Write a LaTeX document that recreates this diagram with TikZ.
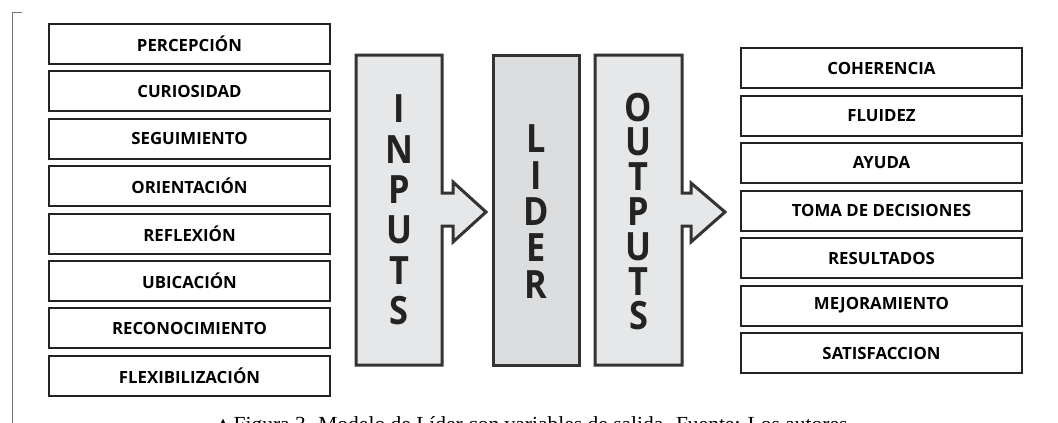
\documentclass[tikz,border=0pt]{standalone}
\usepackage{fontspec}
\setmainfont{Liberation Serif}
\newfontfamily\labelfont{Open Sans}
\newfontfamily\stagefont{Open Sans}[FakeStretch=0.88]
\newfontfamily\symbolfont{DejaVu Sans}

\definecolor{boxline}{HTML}{232323}
\definecolor{stageline}{HTML}{333333}
\definecolor{stagefill}{HTML}{E6E7E8}
\definecolor{liderfill}{HTML}{DCDDDF}
\definecolor{frameline}{HTML}{777777}

\tikzset{
  item/.style={draw=boxline, line width=2pt, minimum width=281pt, minimum height=40pt,
    inner sep=0pt, font=\labelfont\bfseries\fontsize{16.8}{19}\selectfont},
  stage/.style={draw=stageline, line width=3pt, line join=miter},
  word/.style={align=center, inner sep=0pt, text=boxline},
}

\begin{document}
\begin{tikzpicture}[x=1pt,y=-1pt]
        \useasboundingbox (0,0) rectangle (1058,423);
        % frame corner on the left
        \draw[frameline, line width=1pt](22,12)--(12,12)--(12,430);

        % inputs
        \node[item](perc) at (189.5,44){PERCEPCIÓN};
        \node[item](curi) at (189.5,91.4){CURIOSIDAD};
        \node[item](segu) at (189.5,138.8){SEGUIMIENTO};
        \node[item](orie) at (189.5,186.2){ORIENTACIÓN};
        \node[item](refl) at (189.5,233.6){REFLEXIÓN};
        \node[item](ubic) at (189.5,281){UBICACIÓN};
        \node[item](reco) at (189.5,328.4){RECONOCIMIENTO};
        \node[item](flex) at (189.5,375.8){FLEXIBILIZACIÓN};

        % middle stages, the outer two with an arrow
        \draw[stage, fill=stagefill](356,55)--(442,55)--(442,193)--(453,193)--(453,182)--(486,212)
            --(453,242)--(453,226)--(442,226)--(442,365)--(356,365)--cycle;
        \draw[stage, fill=liderfill](493,55)rectangle(579,365);
        \draw[stage, fill=stagefill](595,55)--(682,55)--(682,193)--(691,193)--(691,183)--(725,212)
            --(691,242)--(691,226)--(682,226)--(682,365)--(595,365)--cycle;

        \node[word, font=\stagefont\bfseries\fontsize{39}{40.4}\selectfont]
            (inputs) at (399,210){I\\N\\P\\U\\T\\S};
        \node[word, font=\stagefont\bfseries\fontsize{39}{36.3}\selectfont]
            (lider) at (536,211.5){L\\I\\D\\E\\R};
        \node[word, font=\stagefont\bfseries\fontsize{39}{34.8}\selectfont]
            (outputs) at (638.5,211.5){O\\U\\T\\P\\U\\T\\S};

        % outputs
        \node[item](cohe) at (881.5,68){COHERENCIA};
        \node[item](flui) at (881.5,115.5){FLUIDEZ};
        \node[item](ayud) at (881.5,163){AYUDA};
        \node[item](toma) at (881.5,210.5){TOMA DE DECISIONES};
        \node[item](resu) at (881.5,258){RESULTADOS};
        \node[item](mejo) at (881.5,305.5){MEJORAMIENTO};
        \node[item](sati) at (881.5,353){SATISFACCION};

        % caption, cut by the page edge
        \node[anchor=base west, inner sep=0pt, font=\fontsize{21.5}{24}\selectfont](caption) at (218,431)
            {\raisebox{4pt}{\symbolfont\fontsize{13}{14}\selectfont ▲} Figura 3. Modelo de Líder con variables de salida. Fuente: Los autores.};
    \end{tikzpicture}
\end{document}
